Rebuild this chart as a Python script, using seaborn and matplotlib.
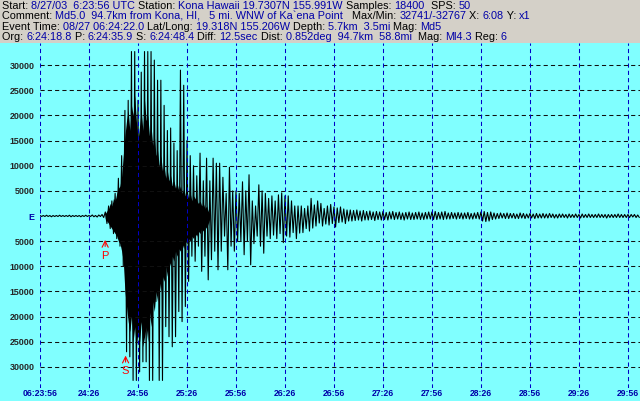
import matplotlib
matplotlib.use("Agg")
import matplotlib.pyplot as plt
import numpy as np
import seaborn as sns
from matplotlib.patches import Rectangle

# ----------------------------------------------------------------------------------------------------------------------
# Datos: sismograma Kona Hawaii (picos, en miles de cuentas, uno por segundo)
# ----------------------------------------------------------------------------------------------------------------------

step_s = 1.0
counts_k = [
    0.1, -0.1, 0.1, -0.1, 0.15, -0.1, 0.1, -0.15, 0.1, -0.1,
    0.1, -0.1, 0.15, -0.1, 0.1, -0.1, 0.1, -0.1, 0.15, -0.15,
    0.1, -0.1, 0.1, -0.1, 0.1, -0.15, 0.1, -0.1, 0.15, -0.1,
    0.1, -0.1, 0.2, -0.15, 0.1, -0.2, 0.2, -0.1, 0.3, -0.3,
    0.8, -1.5, 2.0, -2.5, 3.0, -3.5, 4.5, -4.5, 7.5, -6.0,
    12.0, -10.0, 21.0, -27.0, 23.0, -28.0, 32.7, -32.7, 32.7, -32.7,
    23.0, -31.0, 28.6, -29.0, 32.7, -29.0, 32.7, -32.7, 32.7, -32.7,
    31.0, -17.0, 27.0, -32.7, 27.0, -32.7, 22.0, -22.0, 17.0, -24.0,
    17.5, -26.0, 14.5, -24.0, 13.0, -19.0, 29.0, -21.0, 26.0, -18.0,
    15.0, -13.0, 12.0, -8.0, 10.0, -9.0, 8.0, -6.0, 12.5, -11.0,
    7.0, -8.0, 11.5, -12.7, 7.0, -8.7, 11.5, -7.0, 10.5, -10.7,
    10.5, -7.0, 7.7, -4.0, 4.5, -10.7, 9.7, -6.0, 5.0, -7.0,
    5.0, -5.0, 4.5, -5.0, 6.8, -7.7, 5.0, -5.0, 8.2, -9.7,
    3.0, -5.5, 2.0, -4.0, 6.2, -6.0, 5.0, -7.4, 4.5, -4.0,
    3.5, -4.5, 4.0, -3.8, 3.0, -4.5, 4.2, -3.5, 4.6, -5.3,
    4.0, -4.0, 4.0, -4.2, 3.0, -3.3, 2.0, -4.5, 2.0, -3.4,
    2.0, -3.3, 1.5, -2.5, 2.0, -3.0, 3.5, -2.4, 2.2, -2.0,
    3.0, -1.4, 2.5, -2.0, 1.5, -1.6, 2.0, -1.8, 2.3, -1.5,
    1.8, -2.2, 1.6, -1.3, 1.8, -1.2, 1.4, -1.5, 1.2, -1.0,
    1.2, -1.0, 1.1, -0.9, 1.2, -0.8, 1.0, -1.0, 1.1, -0.8,
    0.9, -0.8, 1.0, -0.7, 0.8, -0.9, 0.9, -0.7, 0.8, -0.8,
    0.9, -0.7, 0.7, -0.8, 0.8, -0.6, 0.9, -0.7, 0.7, -0.6,
    0.8, -0.7, 0.6, -0.8, 0.7, -0.6, 0.8, -0.7, 0.6, -0.7,
    0.7, -0.6, 0.8, -0.7, 0.6, -0.7, 0.7, -0.6, 0.8, -0.6,
    0.8, -0.7, 0.9, -0.7, 0.7, -0.6, 0.8, -0.7, 0.9, -0.6,
    0.6, -0.6, 0.7, -0.5, 0.6, -0.6, 0.7, -0.5, 0.6, -0.6,
    0.6, -0.5, 0.7, -0.6, 0.5, -0.6, 0.6, -0.5, 0.7, -0.6,
    0.8, -1.0, 0.9, -1.1, 0.7, -1.0, 0.8, -0.7, 0.6, -0.6,
    0.5, -0.5, 0.6, -0.4, 0.5, -0.5, 0.6, -0.5, 0.5, -0.4,
    0.5, -0.5, 0.4, -0.5, 0.6, -0.4, 0.5, -0.5, 0.4, -0.4,
    0.5, -0.4, 0.4, -0.5, 0.5, -0.4, 0.4, -0.4, 0.5, -0.4,
    0.4, -0.4, 0.5, -0.3, 0.4, -0.4, 0.3, -0.4, 0.4, -0.3,
    0.4, -0.3, 0.3, -0.4, 0.4, -0.3, 0.3, -0.3, 0.4, -0.3,
    0.3, -0.4, 0.4, -0.3, 0.3, -0.3, 0.4, -0.3, 0.3, -0.3,
    0.3, -0.3, 0.4, -0.3, 0.3, -0.3, 0.3, -0.4, 0.3, -0.3,
    0.3, -0.3, 0.3, -0.3, 0.4, -0.3, 0.3, -0.3, 0.3, -0.3,
    0.3, -0.3, 0.3, -0.2, 0.3, -0.3, 0.2, -0.3,
]

# borde de la zona negra densa (miles de cuentas, uno por segundo desde t=40 s)
core_t0_s = 40
core_hi_k = [
    0.5, 1.0, 1.5, 2.5, 2.0, 3.5, 3.0, 4.5, 5.5, 6.0,
    8.0, 12.0, 16.0, 19.0, 21.0, 17.0, 22.0, 20.0, 24.0, 19.0,
    15.0, 18.0, 21.0, 17.0, 23.0, 19.0, 20.0, 16.0, 18.0, 14.0,
    16.0, 12.0, 13.0, 10.0, 12.0, 9.0, 10.0, 7.5, 9.0, 7.0,
    8.0, 6.0, 7.0, 5.5, 6.5, 5.0, 6.0, 4.5, 5.5, 4.0,
    5.0, 3.5, 4.5, 3.0, 4.0, 3.5, 3.0, 2.5, 3.0, 2.0,
    2.5, 1.5, 2.0, 1.0, 0.5,
]
core_lo_k = [
    -0.5, -1.0, -1.5, -2.0, -2.5, -3.0, -3.5, -4.0, -5.0, -5.5,
    -7.0, -9.0, -15.0, -18.0, -21.0, -23.0, -20.0, -25.0, -22.0, -26.0,
    -23.0, -25.0, -21.0, -26.0, -24.0, -22.0, -25.0, -19.0, -22.0, -17.0,
    -19.0, -15.0, -17.0, -13.0, -15.0, -12.0, -13.0, -10.0, -12.0, -9.0,
    -10.0, -8.0, -9.0, -7.0, -8.0, -6.5, -7.0, -5.5, -6.5, -5.0,
    -5.5, -4.5, -5.0, -4.0, -4.5, -3.5, -4.0, -3.0, -3.5, -2.5,
    -3.0, -2.0, -2.5, -1.5, -0.5,
]

x_tick_s = [0, 30, 60, 90, 120, 150, 180, 210, 240, 270, 300, 330, 360]
x_tick_labels = ['06:23:56', '24:26', '24:56', '25:26', '25:56', '26:26', '26:56',
                 '27:26', '27:56', '28:26', '28:56', '29:26', '29:56']
y_tick_k = [-30, -25, -20, -15, -10, -5, 0, 5, 10, 15, 20, 25, 30]

p_time_s = 39.9   # 6:24:35.9
s_time_s = 52.4   # 6:24:48.4

header_lines = [
    [('Start: ', 'k'), ('8/27/03  6:23:56 UTC', 'b'), (' Station: ', 'k'),
     ('Kona Hawaii 19.7307N 155.991W', 'b'), (' Samples: ', 'k'), ('18400', 'b'),
     ('  SPS: ', 'k'), ('50', 'b')],
    [('Comment: ', 'k'), ('Md5.0  94.7km from Kona, HI,   5 mi. WNW of Ka`ena Point', 'b'),
     ('   Max/Min: ', 'k'), ('32741/-32767', 'b'), (' X: ', 'k'), ('6:08', 'b'),
     (' Y: ', 'k'), ('x1', 'b')],
    [('Event Time: ', 'k'), ('08/27 06:24:22.0', 'b'), (' Lat/Long: ', 'k'),
     ('19.318N 155.206W', 'b'), (' Depth: ', 'k'), ('5.7km  3.5mi', 'b'), (' Mag: ', 'k'),
     ('Md5', 'b')],
    [('Org: ', 'k'), ('6:24:18.8', 'b'), (' P: ', 'k'), ('6:24:35.9', 'b'), (' S: ', 'k'),
     ('6:24:48.4', 'b'), (' Diff: ', 'k'), ('12.5sec', 'b'), (' Dist: ', 'k'),
     ('0.852deg  94.7km  58.8mi', 'b'), ('  Mag: ', 'k'), ('Ml4.3', 'b'), (' Reg: ', 'k'),
     ('6', 'b')],
]

# ----------------------------------------------------------------------------------------------------------------------
# Figura
# ----------------------------------------------------------------------------------------------------------------------

sns.set_style('white')
plt.rcParams['font.family'] = ['Liberation Sans', 'DejaVu Sans']

GRAY = '#d4d0c8'
CYAN = '#80ffff'
BLUE = '#0000a8'
W, H = 640, 401

fig = plt.figure(figsize=(W / 100, H / 100), dpi=100, facecolor=GRAY)
fig.patches.append(Rectangle((0, 0), 1, (H - 43) / H, transform=fig.transFigure,
                             facecolor=CYAN, edgecolor='none', zorder=-5))

ax = fig.add_axes([40 / W, (H - 388) / H, 600 / W, (388 - 43) / H])
ax.set_facecolor(CYAN)

t = np.arange(len(counts_k)) * step_s
core_t = core_t0_s + np.arange(len(core_hi_k)) * step_s
ax.fill_between(core_t, core_lo_k, core_hi_k, color='black', linewidth=0, zorder=2)
sns.lineplot(x=t, y=counts_k, ax=ax, color='black', linewidth=0.8,
             estimator=None, sort=False, zorder=2)

ax.set_xlim(0, 367.4)
ax.set_ylim(-34.2, 34.4)
for s in ax.spines.values():
    s.set_visible(False)

# rejilla
hl = [v for v in y_tick_k if v != 0]
ax.hlines(hl, 0, 367.4, colors='#101010', linewidth=0.75, linestyles=(0, (4, 3)), zorder=3)
ax.vlines(x_tick_s, -34.2, 34.4, colors='#0000c8', linewidth=0.75,
          linestyles=(0, (4, 3)), zorder=3)

ax.set_xticks(x_tick_s)
ax.set_xticklabels(x_tick_labels, color=BLUE, fontsize=6.2, fontweight='bold')
ax.set_yticks(y_tick_k)
ax.set_yticklabels(['E' if v == 0 else str(abs(v) * 1000) for v in y_tick_k],
                   fontsize=6.4, fontweight='bold')
ax.tick_params(axis='x', length=0, pad=1)
ax.tick_params(axis='y', length=0, pad=4)
ax.yaxis.get_ticklabels()[y_tick_k.index(0)].set_color(BLUE)
ax.set_xlabel('')
ax.set_ylabel('')

# marcas P y S
for name, ts, tip, base in [('P', p_time_s, -4.2, -6.4), ('S', s_time_s, -27.2, -29.4)]:
    ax.annotate('', xy=(ts, tip), xytext=(ts, base - 0.2),
                arrowprops=dict(arrowstyle='->', color='red', lw=0.8,
                                mutation_scale=11), annotation_clip=False, zorder=5)
    ax.text(ts, base - 0.5, name, color='red', fontsize=8, ha='center', va='top', zorder=5)

# cabecera
for i, parts in enumerate(header_lines):
    y = 1 - (6 + 10.3 * i) / H
    prev = None
    for txt, col in parts:
        c = 'black' if col == 'k' else BLUE
        if prev is None:
            prev = fig.text(2 / W, y, txt, color=c, fontsize=7.8, ha='left', va='center')
        else:
            prev = ax.annotate(txt, xy=(1, 0), xycoords=prev, ha='left', va='bottom',
                               color=c, fontsize=7.8, annotation_clip=False)

fig.savefig('out.png', dpi=100, facecolor=GRAY)
